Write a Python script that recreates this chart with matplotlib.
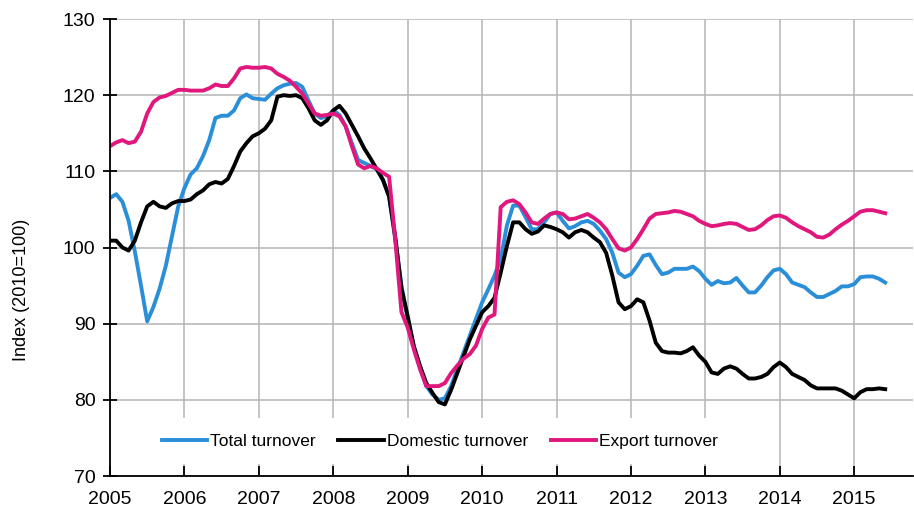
import matplotlib

matplotlib.use("Agg")
import matplotlib.pyplot as plt
import numpy as np

plt.rcParams["font.family"] = ["Liberation Sans", "DejaVu Sans"]

# ========= data: monthly turnover index (2010=100), Jan 2005 - Jun 2015 =========
start_year = 2005
total = [
    106.5, 107.0, 106.0, 103.5, 99.5, 95.0, 90.3, 92.2, 94.6, 97.6, 101.5, 105.4,
    107.8, 109.6, 110.4, 112.0, 114.1, 117.0, 117.3, 117.3, 118.0, 119.6, 120.1, 119.6,
    119.5, 119.4, 120.2, 120.9, 121.3, 121.5, 121.6, 121.1, 119.3, 117.6, 117.0, 117.2,
    118.0, 117.4, 115.9, 113.7, 111.5, 111.1, 110.7, 110.3, 108.9, 106.7, 101.0, 95.0,
    90.6, 87.0, 84.4, 81.8, 80.7, 80.0, 80.2, 81.8, 84.0, 86.2, 88.4, 90.6,
    92.8, 94.5, 96.3, 98.5, 102.9, 105.5, 105.5, 104.0, 102.4, 102.4, 103.3, 104.4,
    104.6, 103.5, 102.5, 102.8, 103.3, 103.5, 103.1, 102.2, 101.1, 99.3, 96.7, 96.1,
    96.5, 97.6, 98.9, 99.1, 97.7, 96.5, 96.7, 97.2, 97.2, 97.2, 97.5, 96.9,
    95.9, 95.1, 95.6, 95.3, 95.4, 96.0, 95.0, 94.1, 94.1, 95.0, 96.1, 97.0,
    97.2, 96.5, 95.4, 95.1, 94.8, 94.1, 93.5, 93.5, 93.9, 94.3, 94.9, 94.9,
    95.2, 96.1, 96.2, 96.2, 95.9, 95.4,
]
domestic = [
    100.9, 100.9, 100.0, 99.6, 100.9, 103.3, 105.4, 106.0, 105.4, 105.2, 105.8, 106.1,
    106.1, 106.3, 107.0, 107.5, 108.3, 108.6, 108.4, 109.0, 110.7, 112.6, 113.7, 114.6,
    115.0, 115.6, 116.7, 119.8, 120.0, 119.9, 120.0, 119.6, 118.3, 116.7, 116.1, 116.7,
    118.0, 118.6, 117.6, 116.1, 114.6, 113.0, 111.7, 110.3, 108.9, 106.7, 101.4, 94.6,
    91.0, 87.0, 84.4, 82.2, 80.9, 79.7, 79.4, 81.3, 83.5, 85.7, 87.9, 89.7,
    91.5, 92.3, 93.4, 96.7, 100.2, 103.3, 103.3, 102.4, 101.8, 102.1, 102.9, 102.7,
    102.4, 102.0, 101.3, 102.0, 102.3, 102.0, 101.3, 100.7, 99.3, 96.3, 92.8, 91.9,
    92.3, 93.2, 92.8, 90.4, 87.5, 86.4, 86.2, 86.2, 86.1, 86.4, 86.9, 85.8,
    85.0, 83.6, 83.4, 84.1, 84.4, 84.1, 83.4, 82.8, 82.8, 83.0, 83.4, 84.3,
    84.9, 84.3, 83.4, 83.0, 82.6, 81.9, 81.5, 81.5, 81.5, 81.5, 81.2, 80.7,
    80.2, 81.0, 81.4, 81.4, 81.5, 81.4,
]
export = [
    113.3, 113.8, 114.1, 113.7, 113.9, 115.2, 117.6, 119.1, 119.7, 119.9, 120.3, 120.7,
    120.7, 120.6, 120.6, 120.6, 120.9, 121.4, 121.2, 121.2, 122.2, 123.5, 123.7, 123.6,
    123.6, 123.7, 123.5, 122.8, 122.4, 121.9, 121.1, 120.2, 118.9, 117.6, 117.3, 117.4,
    117.6, 117.2, 115.9, 113.3, 110.9, 110.4, 110.7, 110.4, 109.8, 109.3, 101.0, 91.5,
    89.5, 86.6, 84.0, 81.8, 81.8, 81.8, 82.2, 83.5, 84.5, 85.4, 86.0, 87.1,
    89.3, 90.8, 91.2, 105.3, 106.0, 106.2, 105.7, 104.6, 103.3, 103.1, 103.8, 104.4,
    104.6, 104.4, 103.7, 103.8, 104.1, 104.4, 103.9, 103.3, 102.4, 101.1, 99.9, 99.6,
    100.0, 101.1, 102.4, 103.8, 104.4, 104.5, 104.6, 104.8, 104.7, 104.4, 104.1, 103.5,
    103.1, 102.8, 102.9, 103.1, 103.2, 103.1, 102.7, 102.3, 102.4, 102.9, 103.6, 104.1,
    104.2, 103.9, 103.3, 102.8, 102.4, 102.0, 101.4, 101.3, 101.7, 102.4, 103.0, 103.5,
    104.1, 104.7, 104.9, 104.9, 104.7, 104.5,
]
year_ticks = list(range(2005, 2016))
y_ticks = [70, 80, 90, 100, 110, 120, 130]

x = start_year + np.arange(len(total)) / 12

# ========= plot =========
fig = plt.figure(figsize=(9.14, 5.15), dpi=100)
ax = fig.add_axes([110 / 914, 1 - 476 / 515, 803 / 914, 457 / 515])

lw = 2.8
ax.plot(x, total, color="#2a8fd8", lw=lw, label="Total turnover", solid_joinstyle="round")
ax.plot(x, domestic, color="black", lw=lw, label="Domestic turnover", solid_joinstyle="round")
ax.plot(x, export, color="#e0177d", lw=lw, label="Export turnover", solid_joinstyle="round")

ax.set_xlim(2005, 2015.79)
ax.set_ylim(70, 130)
ax.set_xticks(year_ticks)
ax.set_yticks(y_ticks)

ax.grid(color="#b4b4b4", lw=1.1)
ax.set_axisbelow(True)
for s in ["top", "right"]:
    ax.spines[s].set_visible(False)
for s in ["left", "bottom"]:
    ax.spines[s].set_linewidth(1.3)

ax.tick_params(axis="x", direction="in", length=7, width=1.3, pad=10.5, labelsize=14)
ax.tick_params(axis="y", direction="inout", length=10, width=1.3, pad=5.5, labelsize=14)

fig.text(22 / 914, 1 - 290 / 515, "Index (2010=100)", rotation=90,
         ha="center", va="center", fontsize=13)

leg = ax.legend(loc="center", bbox_to_anchor=(440 / 914, 1 - 441 / 515),
                bbox_transform=fig.transFigure, ncol=3, fontsize=12.5,
                handlelength=2.6, handletextpad=0.2, columnspacing=1.3,
                borderpad=0.9, fancybox=False, framealpha=1)
leg.get_frame().set_edgecolor("none")
leg.get_frame().set_facecolor("white")

fig.savefig("out.png", dpi=100)
